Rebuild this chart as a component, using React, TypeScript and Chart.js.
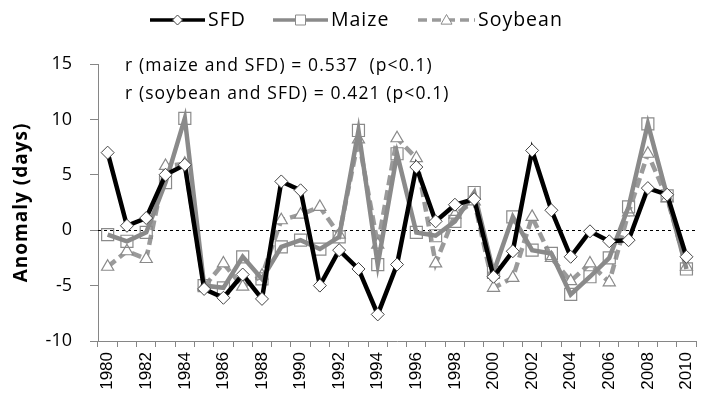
import React, { useEffect, useRef } from 'react';
import { Chart, registerables } from 'chart.js';

Chart.register(...registerables);

const years = ['1980','1981','1982','1983','1984','1985','1986','1987','1988','1989','1990','1991','1992','1993','1994','1995','1996','1997','1998','1999','2000','2001','2002','2003','2004','2005','2006','2007','2008','2009','2010'];
const sfd = [7.0, 0.4, 1.1, 5.0, 5.9, -5.3, -6.1, -4.0, -6.2, 4.4, 3.6, -5.0, -1.8, -3.5, -7.6, -3.1, 5.7, 0.8, 2.3, 2.8, -4.2, -1.9, 7.2, 1.8, -2.4, -0.1, -1.0, -0.9, 3.8, 3.2, -2.4];
const maize = [-0.4, -1.0, -0.2, 4.3, 10.1, -5.0, -5.2, -2.4, -4.4, -1.5, -0.9, -1.7, -0.6, 9.0, -3.1, 6.9, -0.2, -0.5, 0.8, 3.4, -3.8, 1.2, -1.8, -2.1, -5.8, -4.2, -2.5, 2.1, 9.6, 3.1, -3.5];
const soybean = [-3.3, -1.9, -2.6, 5.8, 6.0, -5.1, -3.0, -5.1, -4.1, 0.9, 1.4, 2.1, -0.4, 8.2, -1.3, 8.3, 6.5, -3.0, 1.4, 2.6, -5.2, -4.3, 1.2, -2.5, -4.6, -3.0, -4.7, 1.6, 6.9, 2.9, -3.3];
const yTicks = [-10, -5, 0, 5, 10, 15];
const seriesNames = ['SFD', 'Maize', 'Soybean'];
const notes = ['r (maize and SFD) = 0.537  (p<0.1)', 'r (soybean and SFD) = 0.421 (p<0.1)'];
const yTitle = 'Anomaly (days)';

const TEXT_FONT = '"Open Sans", "Noto Sans", sans-serif';
const AXIS_GRAY = '#868686';

function marker(ctx: CanvasRenderingContext2D, style: string, x: number, y: number, r: number, fill: string, stroke: string) {
  ctx.save();
  ctx.setLineDash([]);
  ctx.beginPath();
  if (style === 'rectRot') {
    ctx.moveTo(x, y - r); ctx.lineTo(x + r, y); ctx.lineTo(x, y + r); ctx.lineTo(x - r, y); ctx.closePath();
  } else if (style === 'rect') {
    ctx.rect(x - r, y - r, 2 * r, 2 * r);
  } else {
    ctx.moveTo(x, y - r); ctx.lineTo(x + r, y + r * 0.75); ctx.lineTo(x - r, y + r * 0.75); ctx.closePath();
  }
  ctx.fillStyle = fill; ctx.fill();
  ctx.lineWidth = 1; ctx.strokeStyle = stroke; ctx.stroke();
  ctx.restore();
}

const overlay = {
  id: 'overlay',
  beforeDatasetsDraw(chart: any) {
    const { ctx, chartArea, scales } = chart;
    const y0 = Math.round(scales.y.getPixelForValue(0)) + 0.5;
    ctx.save();
    ctx.strokeStyle = '#000';
    ctx.lineWidth = 1;
    ctx.setLineDash([3, 3]);
    ctx.beginPath();
    ctx.moveTo(chartArea.left, y0);
    ctx.lineTo(chartArea.right, y0);
    ctx.stroke();
    ctx.restore();
  },
  afterDraw(chart: any) {
    const { ctx, chartArea } = chart;
    ctx.save();
    (ctx as any).letterSpacing = '1px';
    ctx.fillStyle = '#000';
    ctx.textBaseline = 'middle';
    ctx.textAlign = 'left';

    // legend
    const items = [
      { x0: 150, x1: 205, color: '#000', w: 3.5, dash: [] as number[], style: 'rectRot', r: 5, fill: '#fff', stroke: '#444' },
      { x0: 273, x1: 328, color: '#8a8a8a', w: 3.5, dash: [] as number[], style: 'rect', r: 5, fill: '#fff', stroke: '#8a8a8a' },
      { x0: 418, x1: 475, color: '#9a9a9a', w: 3.5, dash: [9, 5], style: 'triangle', r: 5.5, fill: '#fff', stroke: '#8a8a8a' },
    ];
    const ly = 20;
    items.forEach((it, i) => {
      ctx.save();
      ctx.strokeStyle = it.color;
      ctx.lineWidth = it.w;
      ctx.setLineDash(it.dash);
      ctx.beginPath();
      ctx.moveTo(it.x0, ly);
      ctx.lineTo(it.x1, ly);
      ctx.stroke();
      ctx.restore();
      marker(ctx, it.style, (it.x0 + it.x1) / 2, ly, it.r, it.fill, it.stroke);
      ctx.font = `19.5px ${TEXT_FONT}`;
      ctx.fillText(seriesNames[i], it.x1 + 3, ly);
    });

    // annotations
    (ctx as any).letterSpacing = '1.1px';
    ctx.font = `17.5px ${TEXT_FONT}`;
    ctx.fillText(notes[0], 125, 66);
    ctx.fillText(notes[1], 125, 94);

    // y title
    ctx.save();
    (ctx as any).letterSpacing = '1px';
    ctx.translate(22, (chartArea.top + chartArea.bottom) / 2);
    ctx.rotate(-Math.PI / 2);
    ctx.textAlign = 'center';
    ctx.font = `bold 19px ${TEXT_FONT}`;
    ctx.fillText(yTitle, 0, 0);
    ctx.restore();

    ctx.restore();
  },
};

export default function App() {
  const ref = useRef<HTMLCanvasElement>(null);
  useEffect(() => {
    const canvas = ref.current;
    if (!canvas) return;
    const chart = new Chart(canvas, {
      type: 'line',
      data: {
        labels: years,
        datasets: [
          {
            label: seriesNames[0], data: sfd,
            borderColor: '#000', borderWidth: 4.5,
            pointStyle: 'rectRot', pointRadius: 6.5,
            pointBackgroundColor: '#fff', pointBorderColor: '#444', pointBorderWidth: 1,
            tension: 0,
          },
          {
            label: seriesNames[1], data: maize,
            borderColor: '#8a8a8a', borderWidth: 4.5,
            pointStyle: 'rect', pointRadius: 8.5,
            pointBackgroundColor: 'rgba(0,0,0,0)', pointBorderColor: '#8a8a8a', pointBorderWidth: 1.2,
            tension: 0,
          },
          {
            label: seriesNames[2], data: soybean,
            borderColor: '#9a9a9a', borderWidth: 4.5, borderDash: [10, 5],
            pointStyle: 'triangle', pointRadius: 7,
            pointBackgroundColor: '#fff', pointBorderColor: '#8a8a8a', pointBorderWidth: 1.2,
            tension: 0,
          },
        ],
      },
      options: {
        responsive: false,
        animation: false,
        devicePixelRatio: 1,
        layout: { padding: { left: 0, right: 4, top: 64, bottom: 0 } },
        plugins: { legend: { display: false }, tooltip: { enabled: false } },
        scales: {
          x: {
            type: 'category',
            offset: true,
            grid: { offset: true, drawOnChartArea: false, drawTicks: true, tickLength: 6, color: AXIS_GRAY, lineWidth: 1 },
            border: { display: true, color: AXIS_GRAY, width: 1 },
            ticks: {
              autoSkip: false, maxRotation: 90, minRotation: 90, padding: 5,
              color: '#000',
              font: { family: '"Liberation Sans", Arial, sans-serif', size: 17 },
              callback: (_v: any, i: number) => (i % 2 === 0 ? years[i] : ''),
            },
            afterFit: (s: any) => { s.height = 64; },
          },
          y: {
            min: -10, max: 15,
            afterBuildTicks: (s: any) => { s.ticks = yTicks.map((v) => ({ value: v })); },
            grid: { drawOnChartArea: false, drawTicks: true, tickLength: 8, color: AXIS_GRAY },
            border: { display: true, color: AXIS_GRAY, width: 1 },
            ticks: { padding: 18, color: '#000', font: { family: TEXT_FONT, size: 18 } },
            afterFit: (s: any) => { s.width = 98; },
          },
        },
      },
      plugins: [overlay],
    });
    return () => chart.destroy();
  }, []);
  return (
    <div style={{ position: 'fixed', left: 0, top: 0, width: 705, height: 405, overflow: 'hidden', background: '#fff' }}>
      <canvas ref={ref} width={712} height={405} style={{ display: 'block', width: 712, height: 405 }} />
    </div>
  );
}
